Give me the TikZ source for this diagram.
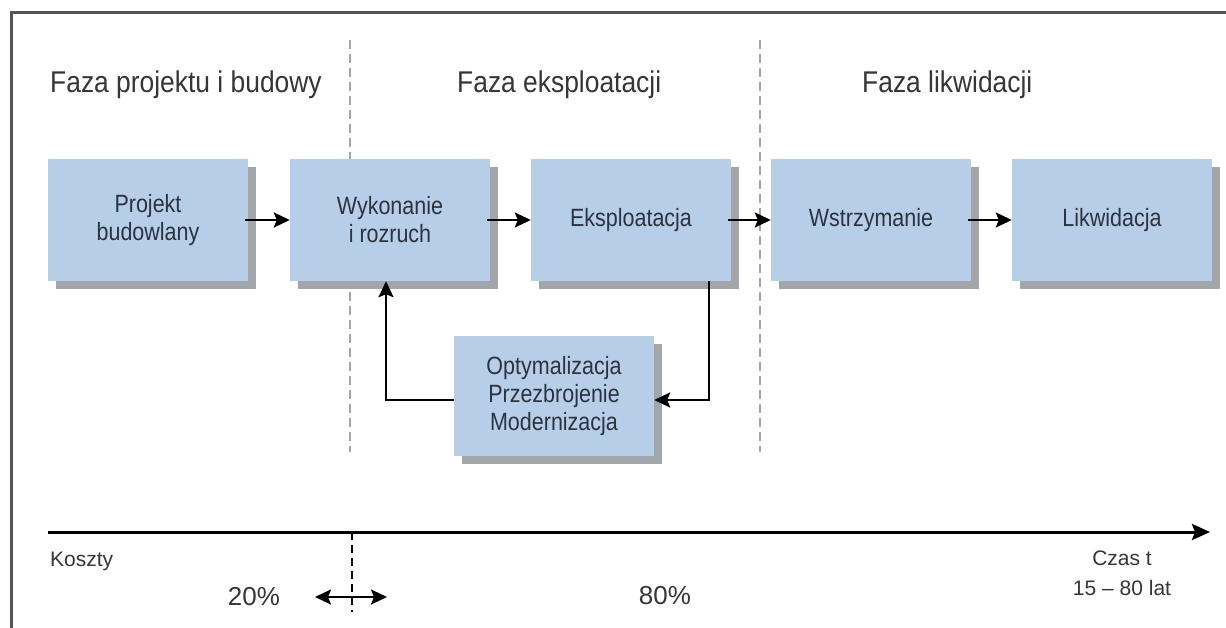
\documentclass[tikz,border=0pt]{standalone}
\usepackage{fontspec}
\setmainfont{Liberation Sans}
\newfontfamily\condf[FakeStretch=0.86]{Liberation Sans}
\newfontfamily\titlef[FakeStretch=0.88]{Liberation Sans}
\usetikzlibrary{arrows.meta,shadows,calc}
\definecolor{boxfill}{HTML}{B7CEE8}
\definecolor{shadowgray}{HTML}{A2A5A9}
\definecolor{boxtext}{HTML}{2C333E}
\definecolor{titletext}{HTML}{363636}
\definecolor{framegray}{HTML}{555555}
\definecolor{dashgray}{HTML}{A5A5A5}
\tikzset{
  procbox/.style={rectangle, fill=boxfill, minimum width=200pt, minimum height=122pt,
    inner sep=0pt, align=center, text=boxtext,
    font=\condf\fontsize{25}{28}\selectfont,
    drop shadow={shadow xshift=8pt, shadow yshift=-8pt, opacity=1, fill=shadowgray}},
  phasetitle/.style={anchor=base west, inner sep=0pt, text=titletext,
    font=\titlef\fontsize{30}{34}\selectfont},
  tip/.tip={Stealth[length=16pt,width=15pt,inset=3pt]},
  flow/.style={line width=2.5pt, -tip},
  phasesep/.style={draw=dashgray, line width=1.5pt, dash pattern=on 9pt off 5pt},
  bottomtext/.style={inner sep=0pt, text=titletext, font=\fontsize{21}{25}\selectfont, align=center},
  pcttext/.style={inner sep=0pt, text=titletext, font=\fontsize{26}{30}\selectfont},
}
\begin{document}
\begin{tikzpicture}[x=1pt,y=-1pt]
\useasboundingbox (0,0) rectangle (1226,628);
\fill[white] (0,0) rectangle (1226,628);
% frame
\draw[framegray, line width=3pt] (11,628) -- (11,13) -- (1226,13);
% phase separators
\coordinate (s1top) at (350,40);
\coordinate (s1bot) at (350,452);
\coordinate (s2top) at (760,40);
\coordinate (s2bot) at (760,452);
\draw[phasesep] (s1top) -- (s1bot);
\draw[phasesep] (s2top) -- (s2bot);
% titles
\node[phasetitle] (t1) at (50,93) {Faza projektu i budowy};
\node[phasetitle] (t2) at (457,93) {Faza eksploatacji};
\node[phasetitle] (t3) at (862,93) {Faza likwidacji};
% boxes
\node[procbox] (b1) at (148,220) {Projekt\\budowlany};
\node[procbox] (b2) at (390,220) {Wykonanie\\i rozruch};
\node[procbox] (b3) at (631,220) {Eksploatacja};
\node[procbox] (b4) at (871,220) {Wstrzymanie};
\node[procbox] (b5) at (1112,220) {Likwidacja};
\node[procbox, minimum height=120pt] (b6) at (554,396) {Optymalizacja\\Przezbrojenie\\Modernizacja};
% flow arrows
\draw[flow] ($(b1.east)+(-3,0)$) -- (b2.west);
\draw[flow] ($(b2.east)+(-3,0)$) -- (b3.west);
\draw[flow] ($(b3.east)+(-3,0)$) -- (b4.west);
\draw[flow] ($(b4.east)+(-3,0)$) -- (b5.west);
\coordinate (fbstart) at ($(b3.south east)+(-22,0)$);
\draw[flow] (fbstart) |- ($(b6.east)+(0,4)$);
\draw[flow] ($(b6.west)+(0,4)$) -| ($(b2.south)+(-4,0)$);
% time axis
\coordinate (ax0) at (48,532);
\coordinate (ax1) at (1210,532);
\draw[line width=3pt, -{Stealth[length=18pt,width=16pt,inset=3pt]}] (ax0) -- (ax1);
\coordinate (cut0) at (352,532);
\coordinate (cut1) at (352,612);
\draw[line width=2.5pt, dash pattern=on 8pt off 5pt] (cut0) -- (cut1);
\coordinate (da0) at (315,597);
\coordinate (da1) at (387,597);
\draw[line width=2.5pt, tip-tip] (da0) -- (da1);
% bottom labels
\node[bottomtext, anchor=west] (koszty) at (50,561) {Koszty};
\node[pcttext] (p20) at (254,597) {20\%};
\node[pcttext] (p80) at (665,596) {80\%};
\node[bottomtext] (czas) at (1122,558) {Czas t};
\node[bottomtext] (lat) at (1122,588) {15 -- 80 lat};
\end{tikzpicture}
\end{document}
